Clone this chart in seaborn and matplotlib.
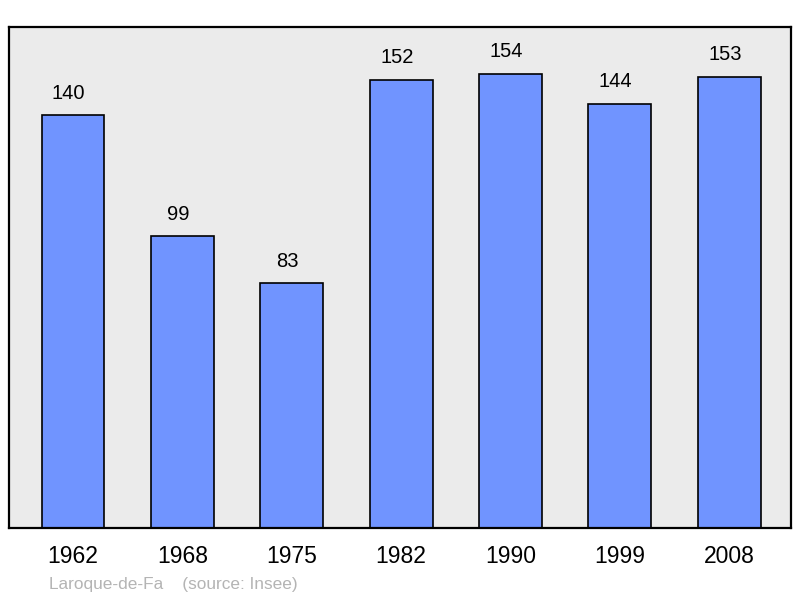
import matplotlib
matplotlib.use("Agg")
import matplotlib.pyplot as plt
import pandas as pd
import seaborn as sns

# population data
years = ["1962", "1968", "1975", "1982", "1990", "1999", "2008"]
population = [140, 99, 83, 152, 154, 144, 153]
commune = "Laroque-de-Fa"
source = "(source: Insee)"

df = pd.DataFrame({"year": years, "pop": population})

sns.set_style("white")
plt.rcParams["font.family"] = ["Liberation Sans", "DejaVu Sans"]
plt.rcParams["text.color"] = "black"
plt.rcParams["xtick.color"] = "black"

fig = plt.figure(figsize=(8, 5.98), dpi=100)
ax = fig.add_axes([9 / 800, 70 / 598, 782 / 800, 501 / 598])
ax.set_facecolor("#ebebeb")

sns.barplot(data=df, x="year", y="pop", color="#7094ff", saturation=1,
            width=0.575, edgecolor="black", linewidth=1.2, ax=ax)

for i, v in enumerate(population):
    ax.text(i - 0.04, v + 4.3, str(v), ha="center", va="bottom", fontsize=14.5)

ax.set_xlim(-0.585, 6.565)
ax.set_ylim(0, 170)
ax.set_yticks([])
ax.set_xlabel("")
ax.set_ylabel("")
ax.tick_params(axis="x", length=0, labelsize=16.5, pad=12, labelcolor="black")
for s in ax.spines.values():
    s.set_linewidth(1.6)
    s.set_color("black")

fig.text(49 / 800, 1 - 584 / 598, commune + "    " + source,
         color="#b4b4b4", fontsize=12.4, ha="left", va="center")

fig.savefig("out.png", dpi=100)
